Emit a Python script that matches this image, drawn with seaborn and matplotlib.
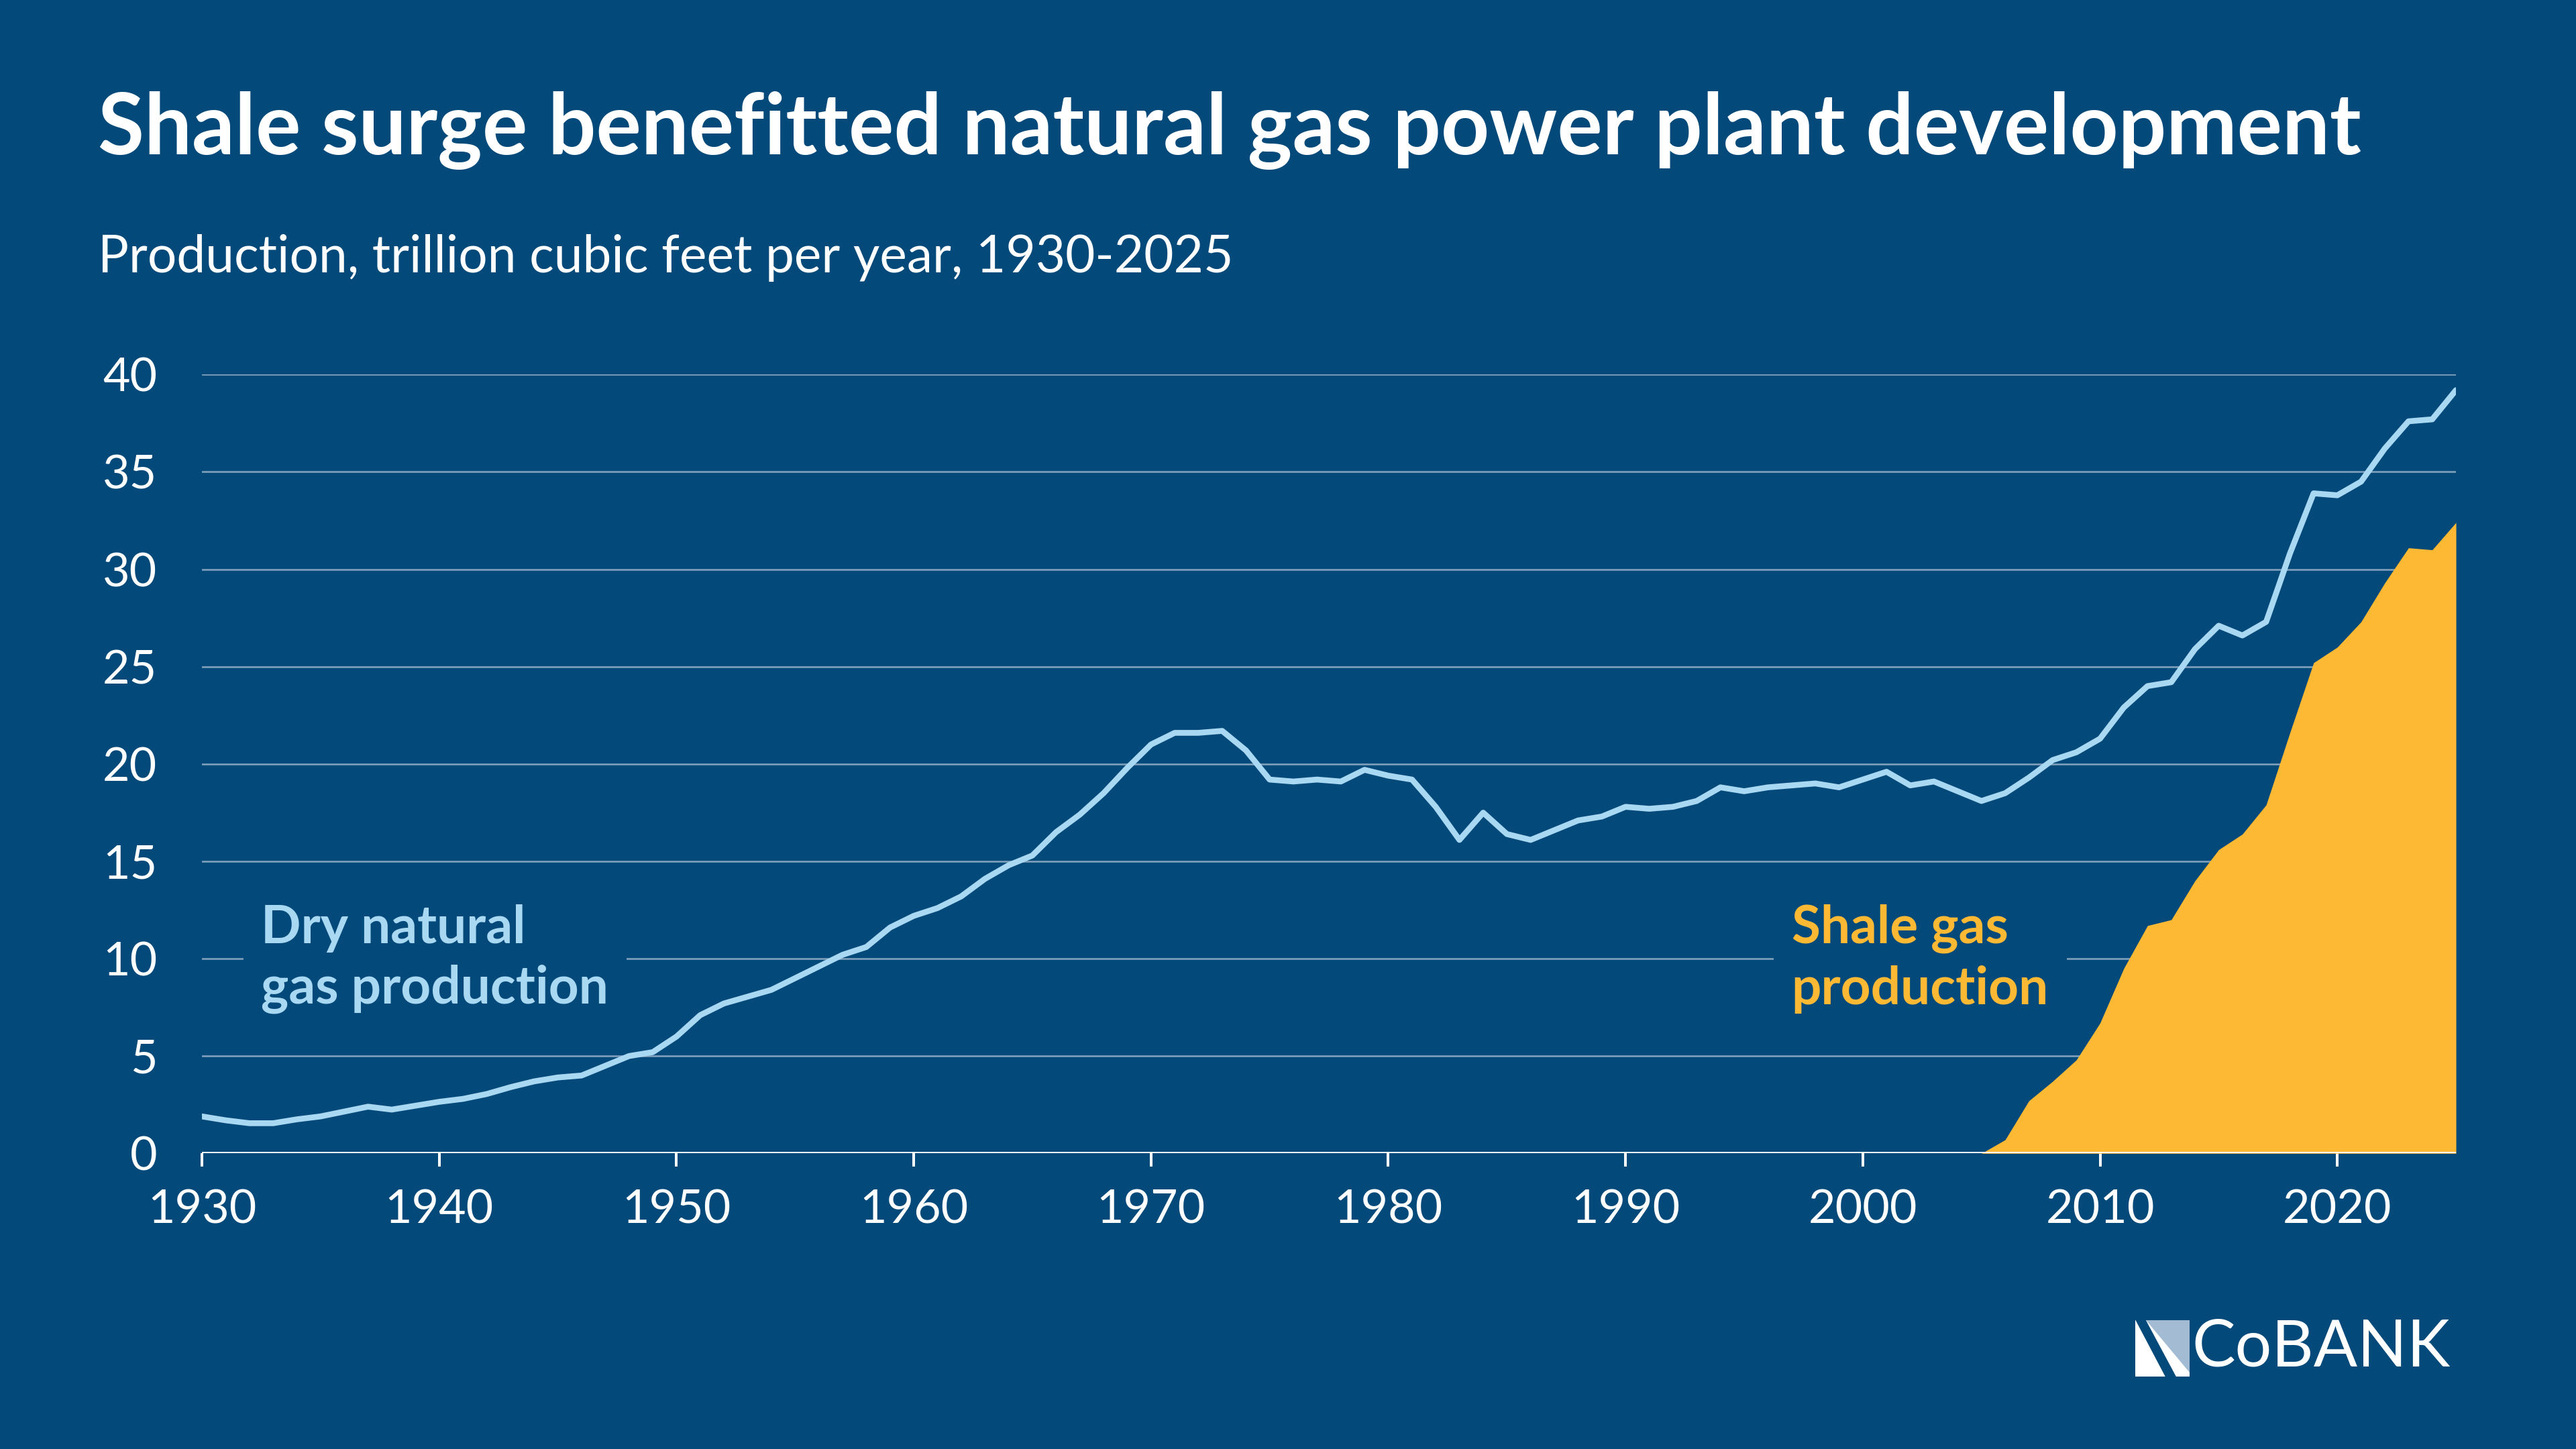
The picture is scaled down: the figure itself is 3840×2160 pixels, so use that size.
import matplotlib
matplotlib.use("Agg")
import matplotlib.pyplot as plt
import seaborn as sns
import pandas as pd
from matplotlib.patches import Polygon

years = list(range(1930, 2026))
dry_gas = [1.9,1.7,1.55,1.55,1.75,1.9,2.15,2.4,2.25,2.45,2.65,2.8,3.05,3.4,3.7,3.9,4.0,4.5,5.0,5.2,
           6.0,7.1,7.7,8.05,8.4,9.0,9.6,10.2,10.6,11.6,12.2,12.6,13.2,14.1,14.8,15.3,16.5,17.4,18.5,19.8,
           21.0,21.6,21.6,21.7,20.7,19.2,19.1,19.2,19.1,19.7,19.4,19.2,17.8,16.1,17.5,16.4,16.1,16.6,17.1,17.3,
           17.8,17.7,17.8,18.1,18.8,18.6,18.8,18.9,19.0,18.8,19.2,19.6,18.9,19.1,18.6,18.1,18.5,19.3,20.2,20.6,
           21.3,22.9,24.0,24.2,25.9,27.1,26.6,27.3,30.8,33.9,33.8,34.5,36.2,37.6,37.7,39.2]
shale_years = list(range(2005, 2026))
shale_gas = [0,0.7,2.7,3.7,4.8,6.7,9.5,11.7,12.0,14.0,15.6,16.4,17.9,21.6,25.2,26.0,27.3,29.3,31.1,31.0,32.4]
yticks = [0,5,10,15,20,25,30,35,40]
xticks = [1930,1940,1950,1960,1970,1980,1990,2000,2010,2020]

BG = "#034A7B"
LINE = "#A9D8F2"
GOLD = "#FDB933"

sns.set_theme(style="white")
plt.rcParams['font.family'] = ['Lato', 'DejaVu Sans']

fig = plt.figure(figsize=(16, 9), dpi=240, facecolor=BG)
ax = fig.add_axes([0.0784, 0.204, 0.875, 0.5375])
ax.set_facecolor(BG)

df = pd.DataFrame({"year": years, "dry": dry_gas})
ax.fill_between(shale_years, shale_gas, 0, color=GOLD, lw=0, zorder=2)
sns.lineplot(data=df, x="year", y="dry", ax=ax, color=LINE, lw=2.6, zorder=3)

ax.set_xlim(1930, 2025)
ax.set_ylim(0, 40)
ax.set_yticks(yticks)
ax.set_xticks(xticks)
ax.set_xlabel("")
ax.set_ylabel("")
for y in yticks[1:]:
    ax.axhline(y, color="#7F9FBA", lw=0.8, zorder=1)
for s in ax.spines.values():
    s.set_visible(False)
ax.axhline(0, color="white", lw=1.2, zorder=4)
ax.tick_params(axis="y", colors="white", labelsize=21, length=0, pad=20)
ax.tick_params(axis="x", colors="white", labelsize=21, length=6, width=1.2, direction="out", pad=10, bottom=True)

ax.text(1932.5, 10, "Dry natural\ngas production", color=LINE, fontsize=23.5, weight="bold",
        va="center", ha="left", linespacing=1.3, zorder=5,
        bbox=dict(facecolor=BG, edgecolor="none", pad=8))
ax.text(1997.0, 10, "Shale gas\nproduction", color=GOLD, fontsize=23.5, weight="bold",
        va="center", ha="left", linespacing=1.3, zorder=5,
        bbox=dict(facecolor=BG, edgecolor="none", pad=8))

fig.text(0.038, 0.91, "Shale surge benefitted natural gas power plant development", color="white",
         fontsize=37.8, weight="bold", va="center", ha="left")
fig.text(0.038, 0.822, "Production, trillion cubic feet per year, 1930-2025", color="white",
         fontsize=23, va="center", ha="left")

# logo
x0, y0, w, h = 0.829, 0.050, 0.021, 0.039
fig.patches.append(Polygon([[x0, y0], [x0 + w, y0], [x0 + w, y0 + h], [x0, y0 + h]],
                           closed=True, transform=fig.transFigure, facecolor="white", edgecolor="none"))
fig.patches.append(Polygon([[x0 + 0.004, y0 + h], [x0 + w, y0 + h], [x0 + w, y0 + 0.003]],
                           closed=True, transform=fig.transFigure, facecolor="#A3BCD3", edgecolor="none"))
fig.patches.append(Polygon([[x0, y0 + h], [x0 + 0.004, y0 + h], [x0 + w*0.75, y0], [x0 + w*0.55, y0]],
                           closed=True, transform=fig.transFigure, facecolor=BG, edgecolor="none"))
fig.text(0.851, 0.0695, "CoBANK", color="white", fontsize=29, va="center", ha="left")

fig.savefig("out.png", dpi=240, facecolor=BG)
